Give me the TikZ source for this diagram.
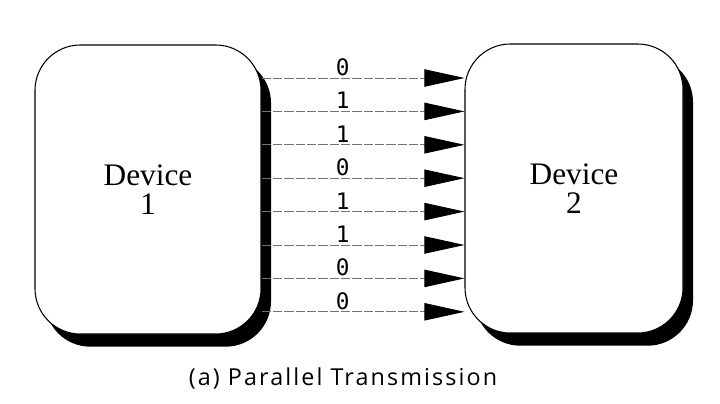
\documentclass[tikz,border=0pt]{standalone}
\usepackage{fontspec}
\setmainfont{Liberation Serif}
\newfontfamily\bitfont{DejaVu Sans Mono}
\newfontfamily\capfont[LetterSpace=9]{Open Sans}
\usetikzlibrary{arrows.meta,shadows}
\begin{document}
\begin{tikzpicture}[x=0.75pt,y=-0.75pt,
  device/.style={draw=black, line width=0.8pt, fill=white, rounded corners=34pt,
    minimum width=#1, minimum height=216.75pt, inner sep=0pt, align=center,
    font=\fontsize{23.5}{22}\selectfont,
    drop shadow={shadow xshift=7.5pt, shadow yshift=-9.5pt, opacity=1, fill=black}},
  bitline/.style={draw=black!55, line width=0.7pt, dash pattern=on 7pt off 1.5pt,
    -{Triangle[length=30pt,width=13pt,color=black,fill=black]}},
  bit/.style={font=\bitfont\fontsize{17}{17}\selectfont, inner sep=1pt}
]
\useasboundingbox[fill=white] (0,0) rectangle (720,403);
\node[device=169.5pt] (d1) at (148,189.5) {Device\\1};
\node[device=163.5pt] (d2) at (574,188.5) {Device\\2};
\foreach \y/\b in {78/0,111.4/1,144.8/1,178.2/0,211.6/1,245/1,278.4/0,311.8/0}{
  \draw[bitline] (d1.east |- 0,\y) -- (d2.west |- 0,\y)
    node[bit, pos=0.4, above=0.5pt] {\b};
}
\node[font=\capfont\fontsize{17.5}{19}\selectfont] (cap) at (343,378) {(a) Parallel Transmission};
\end{tikzpicture}
\end{document}
